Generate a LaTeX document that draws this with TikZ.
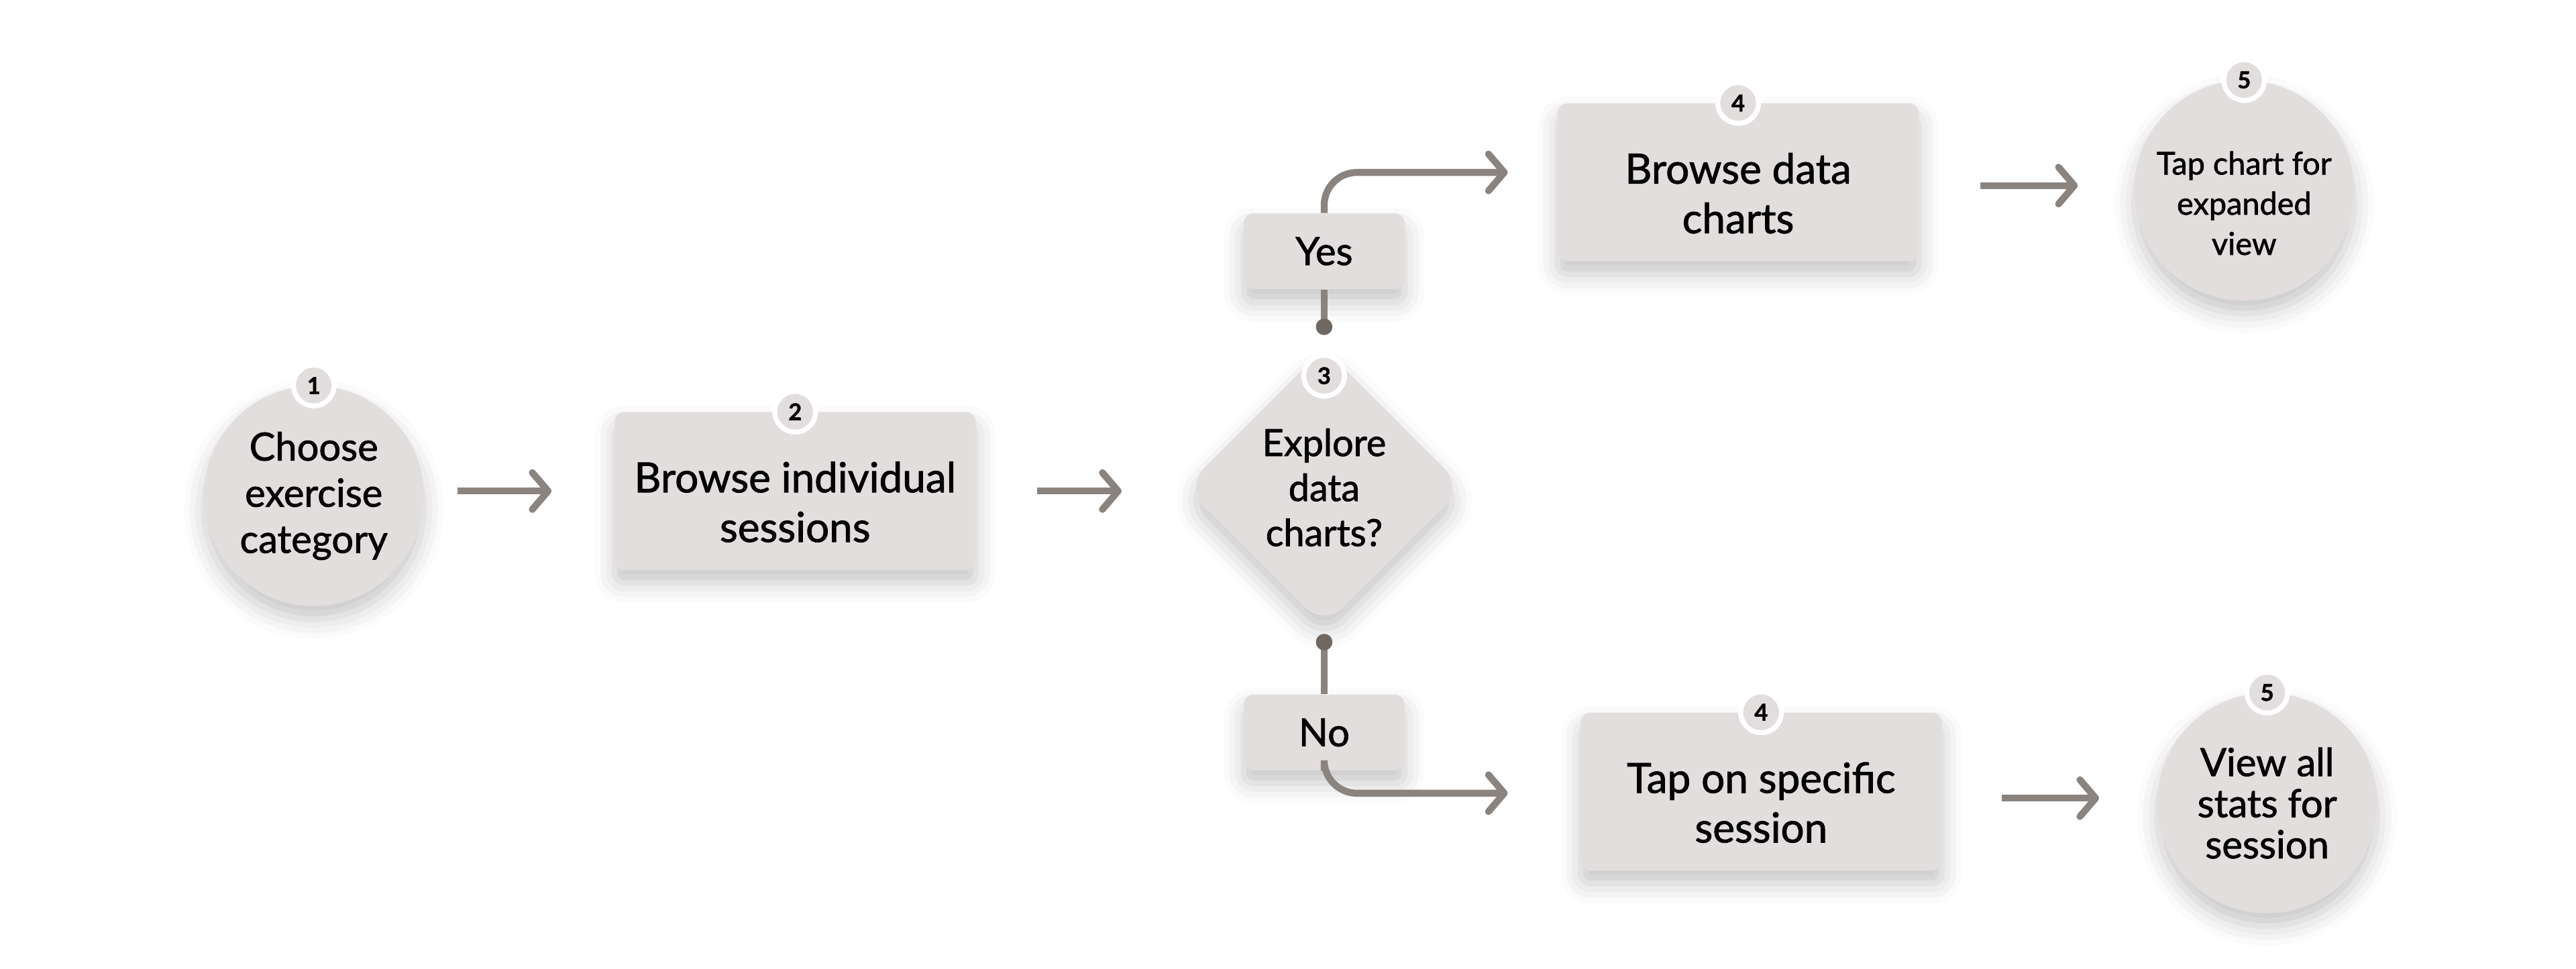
\documentclass[tikz,border=0pt]{standalone}
\usepackage{fontspec}
\setmainfont{Lato}[FakeBold=1.4]
\usetikzlibrary{shapes.geometric, arrows.meta, shadows.blur, positioning}
\definecolor{cardfill}{HTML}{E3DEDE}
\definecolor{linkgray}{HTML}{8A837E}
\definecolor{dotgray}{HTML}{6E6762}
\def\bdg#1{node[badge]{#1}}
\def\lift{\rule{0pt}{0.8cm}}
\def\liftsm{\rule{0pt}{0.74cm}}

\begin{document}
\begin{tikzpicture}[
    card/.style={fill=cardfill, align=center, inner sep=0pt,
      blur shadow={shadow xshift=0pt, shadow yshift=-0.2cm, shadow blur radius=0.3cm, shadow opacity=22}},
    box/.style={card, rectangle, rounded corners=0.15cm, minimum width=5.5cm, minimum height=2.4cm,
      font=\fontsize{18}{21.5}\selectfont},
    disc/.style={card, circle, minimum size=3.35cm, font=\fontsize{16.8}{20}\selectfont},
    smalldisc/.style={disc, font=\fontsize{13.6}{17.4}\selectfont},
    dia/.style={card, diamond, aspect=1, minimum size=4.25cm, rounded corners=0.42cm,
      font=\fontsize{16.2}{19.5}\selectfont},
    choice/.style={box, minimum width=2.45cm, minimum height=1.15cm, font=\fontsize{16.8}{20}\selectfont},
    badge/.style={circle, fill=cardfill, draw=white, line width=0.075cm, minimum size=0.62cm, inner sep=0pt,
      font=\bfseries\fontsize{10}{10}\selectfont},
    link/.style={draw=linkgray, line width=0.105cm, rounded corners=0.5cm,
      {Circle[length=0.25cm, color=dotgray]}-},
    arr/.style={link, -{Straight Barb[length=0.24cm, width=0.56cm, line cap=round, line join=round]}}
  ]
  \useasboundingbox (0,0) rectangle (39.2,-14.742);

  % steps
  \node[disc] (choose) at (4.775,-7.55) {Choose\\exercise\\category};
  \node[box] (browse) at (12.1,-7.475) {\lift Browse individual\\sessions};
  \node[dia] (explore) at (20.15,-7.42) {Explore\\data\\charts?};
  \node[choice] (yes) at (20.15,-3.825) {Yes};
  \node[choice] (no) at (20.15,-11.15) {No};
  \node[box] (charts) at (26.45,-2.775) {\lift Browse data\\charts};
  \node[smalldisc] (expand) at (34.15,-2.9) {\liftsm Tap chart for\\expanded\\view};
  \node[box] (tap) at (26.8,-12.05) {\lift Tap on specific\\session};
  \node[disc, font=\fontsize{16.8}{17.8}\selectfont] (stats) at (34.5,-12.225) {View all\\stats for\\session};

  % free ends at the diamond
  \coordinate (up) at ([yshift=2.32cm]explore.center);
  \coordinate (down) at ([yshift=-2.23cm]explore.center);

  % connectors
  \draw[arr, shorten <=0.5cm, shorten >=0.95cm] (choose.east |- browse.west) -- (browse.west);
  \draw[arr, shorten <=0.925cm, shorten >=0.95cm] (browse.east) -- (browse.east -| explore.west);
  \draw[link] (up) -- (yes.south);
  \draw[arr, shorten >=0.75cm] (yes.north) |- ([yshift=0.15cm]charts.west);
  \draw[link] (down) -- (no.north);
  \draw[arr, shorten >=1.1cm] (no.south) |- ([yshift=-0.025cm]tap.west);
  \draw[arr, shorten <=0.925cm, shorten >=0.85cm] ([yshift=-0.05cm]charts.east) -- ([yshift=-0.05cm]charts.east -| expand.west);
  \draw[arr, shorten <=0.9cm, shorten >=0.875cm] ([yshift=-0.1cm]tap.east) -- ([yshift=-0.1cm]tap.east -| stats.west);

  % numbers
  \draw (choose.north) \bdg{1};
  \draw (browse.north) \bdg{2};
  \draw ([yshift=1.7cm]explore.center) \bdg{3};
  \draw (charts.north) \bdg{4};
  \draw (tap.north) \bdg{4};
  \draw (expand.north) \bdg{5};
  \draw (stats.north) \bdg{5};
\end{tikzpicture}
\end{document}
